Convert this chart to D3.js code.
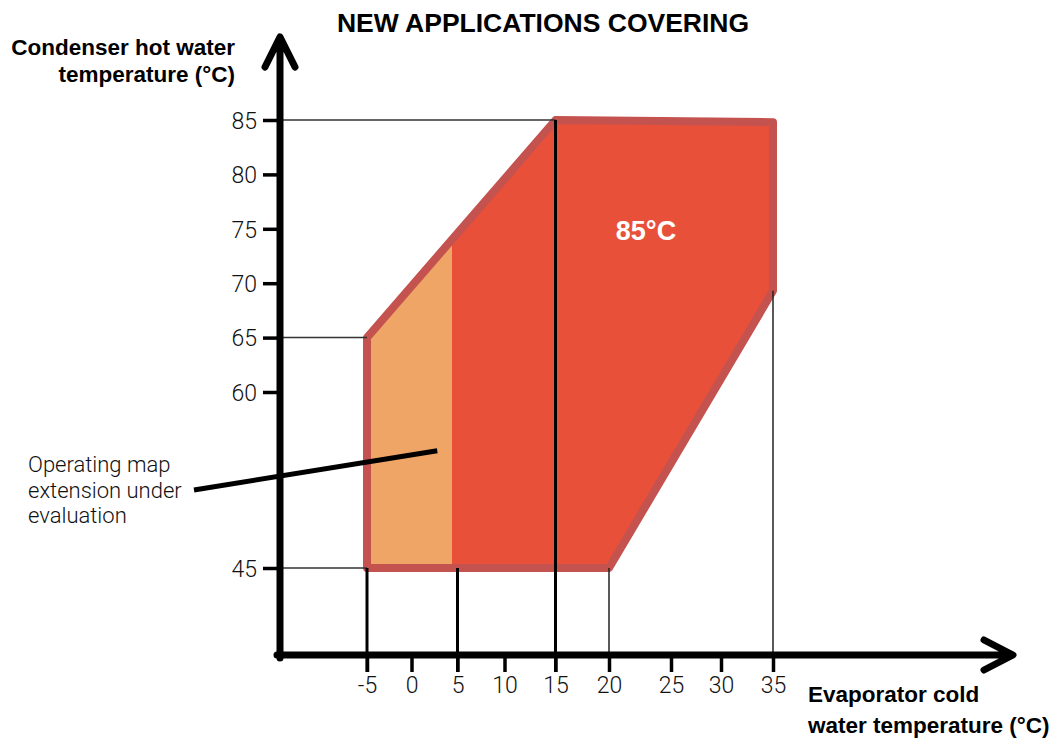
<!DOCTYPE html>
<html>
<head>
<meta charset="utf-8">
<script src="https://cdn.jsdelivr.net/npm/d3@7"></script>
<style>
  body { margin: 0; background: #fff; }
  .tick-label { font-family: Roboto, "Liberation Sans", sans-serif; font-weight: 300; font-size: 23px; fill: #111; }
  .bold-label { font-family: "Liberation Sans", Arial, sans-serif; font-weight: bold; fill: #000; }
</style>
</head>
<body>
<div id="chart"></div>
<script>
// chart values
const xTicks = [-5, 0, 5, 10, 15, 20, 25, 30, 35];
const yTicks = [45, 60, 65, 70, 75, 80, 85];
// operating envelope (evaporator °C, condenser °C)
const envelope = [[-5, 45], [-5, 65], [15, 85], [35, 84.8], [35, 69.3], [20, 45]];
// extension under evaluation
const extension = [[-5, 45], [-5, 65], [4.4, 74.0], [4.4, 45]];
// guide lines to the axes
const hGuides = [[15, 85], [-5, 65], [-5, 45]];
const vGuidesHeavy = [[-5, 45], [5, 45], [15, 85]];
const vGuidesLight = [[20, 45], [35, 69.3]];
const calloutPoint = [2.8, 55];
const titleText = "NEW APPLICATIONS COVERING";
const yTitle = ["Condenser hot water", "temperature (°C)"];
const xTitle = ["Evaporator cold", "water temperature (°C)"];
const noteLines = ["Operating map", "extension under", "evaluation"];
const zoneLabel = "85°C";

let width = 1054, height = 738;
let svg = d3.select("#chart").append("svg")
    .attr("width", width)
    .attr("height", height);

// the drawing is hand spaced, so the scales are piecewise
let x = d3.scaleLinear()
    .domain(xTicks)
    .range([367, 411.5, 457.5, 504.5, 555.5, 609, 671, 721, 773]);
let y = d3.scaleLinear()
    .domain([45, 60, 85])
    .range([568, 392, 120]);

let axisX = 280, axisY = 655;

let line = d3.line()
    .x(function (d) { return x(d[0]); })
    .y(function (d) { return y(d[1]); });

// fills
svg.append("path")
    .attr("d", line(envelope) + "Z")
    .attr("fill", "#e9503a");
svg.append("path")
    .attr("d", line(extension) + "Z")
    .attr("fill", "#efa566");
svg.append("path")
    .attr("d", line(envelope) + "Z")
    .attr("fill", "none")
    .attr("stroke", "#c4524f")
    .attr("stroke-width", 8)
    .attr("stroke-linejoin", "round");

// guides
svg.selectAll(".hguide")
    .data(hGuides)
    .enter().append("line")
    .attr("class", "hguide")
    .attr("x1", axisX)
    .attr("x2", function (d) { return x(d[0]); })
    .attr("y1", function (d) { return y(d[1]); })
    .attr("y2", function (d) { return y(d[1]); })
    .attr("stroke", "#333")
    .attr("stroke-width", 1.5);

svg.selectAll(".vguide-h")
    .data(vGuidesHeavy)
    .enter().append("line")
    .attr("class", "vguide-h")
    .attr("x1", function (d) { return x(d[0]); })
    .attr("x2", function (d) { return x(d[0]); })
    .attr("y1", function (d) { return y(d[1]); })
    .attr("y2", axisY + 17)
    .attr("stroke", "#000")
    .attr("stroke-width", 3);

svg.selectAll(".vguide-l")
    .data(vGuidesLight)
    .enter().append("line")
    .attr("class", "vguide-l")
    .attr("x1", function (d) { return x(d[0]); })
    .attr("x2", function (d) { return x(d[0]); })
    .attr("y1", function (d) { return y(d[1]); })
    .attr("y2", axisY + 17)
    .attr("stroke", "#222")
    .attr("stroke-width", 1.5);

// axes with d3 ticks
let fmt = function (d) { return String(d); };
let yAxis = d3.axisLeft(y).tickValues(yTicks).tickFormat(fmt).tickSize(14).tickPadding(6);
let gy = svg.append("g")
    .attr("transform", "translate(" + (axisX - 3) + ",0)")
    .call(yAxis);
gy.select(".domain").remove();
gy.selectAll(".tick line").attr("stroke", "#000").attr("stroke-width", 3.5);
gy.selectAll(".tick text").attr("class", "tick-label").attr("font-size", null).attr("font-family", null).attr("dy", "0.36em");

let xAxis = d3.axisBottom(x).tickValues(xTicks).tickFormat(fmt).tickSize(17).tickPadding(5);
let gx = svg.append("g")
    .attr("transform", "translate(0," + axisY + ")")
    .call(xAxis);
gx.select(".domain").remove();
gx.selectAll(".tick line").attr("stroke", "#000").attr("stroke-width", 3.5);
gx.selectAll(".tick text").attr("class", "tick-label").attr("font-size", null).attr("font-family", null);

// main axis lines with arrows
svg.append("path")
    .attr("d", "M" + axisX + "," + (axisY + 3) + "V38 M265,67 L" + axisX + ",37 L295,67")
    .attr("fill", "none")
    .attr("stroke", "#000")
    .attr("stroke-width", 7)
    .attr("stroke-linecap", "round")
    .attr("stroke-linejoin", "round");
svg.append("path")
    .attr("d", "M" + (axisX - 3) + "," + axisY + "H1012 M984,640 L1013," + axisY + " L984,670")
    .attr("fill", "none")
    .attr("stroke", "#000")
    .attr("stroke-width", 7)
    .attr("stroke-linecap", "round")
    .attr("stroke-linejoin", "round");

// callout
svg.append("line")
    .attr("x1", 194).attr("y1", 490)
    .attr("x2", x(calloutPoint[0])).attr("y2", y(calloutPoint[1]))
    .attr("stroke", "#000")
    .attr("stroke-width", 5);

svg.append("text")
    .attr("class", "tick-label")
    .attr("x", 28)
    .attr("y", 472)
    .style("font-size", "22px")
    .selectAll("tspan")
    .data(noteLines)
    .enter().append("tspan")
    .attr("x", 28)
    .attr("dy", function (d, i) { return i ? 25.5 : 0; })
    .text(function (d) { return d; });

// titles
svg.append("text")
    .attr("class", "bold-label")
    .attr("x", 543)
    .attr("y", 32)
    .attr("text-anchor", "middle")
    .style("font-size", "26.5px")
    .text(titleText);

svg.append("text")
    .attr("class", "bold-label")
    .attr("text-anchor", "end")
    .style("font-size", "22.5px")
    .selectAll("tspan")
    .data(yTitle)
    .enter().append("tspan")
    .attr("x", 235)
    .attr("y", function (d, i) { return 55 + i * 27; })
    .text(function (d) { return d; });

svg.append("text")
    .attr("class", "bold-label")
    .style("font-size", "22.5px")
    .selectAll("tspan")
    .data(xTitle)
    .enter().append("tspan")
    .attr("x", 808)
    .attr("y", function (d, i) { return 702 + i * 31; })
    .text(function (d) { return d; });

svg.append("text")
    .attr("class", "bold-label")
    .attr("x", 646)
    .attr("y", 240)
    .attr("text-anchor", "middle")
    .style("font-size", "27px")
    .style("fill", "#fff")
    .text(zoneLabel);
</script>
</body>
</html>
